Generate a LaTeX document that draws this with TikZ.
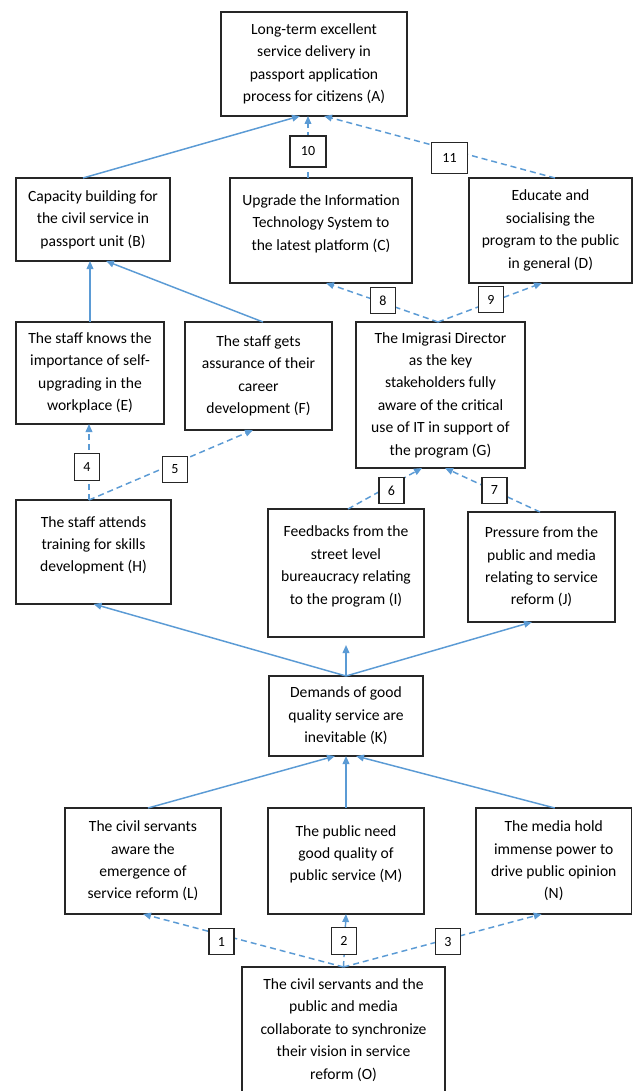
\documentclass[tikz,border=0pt]{standalone}
\usepackage{fontspec}
\setmainfont{Carlito}
\usetikzlibrary{arrows.meta,calc}
\definecolor{arrowblue}{RGB}{91,155,213}
\newcommand\Bx[6]{\node[box,minimum width={(#4-#2)*0.75pt},minimum height={(#5-#3)*0.75pt}] (#1) at ({(#2+#4)/2},{(#3+#5)/2}) {#6};}
\newcommand\dn{\rule[-12pt]{0pt}{1pt}}
\begin{document}
\begin{tikzpicture}[x=0.75pt,y=-0.75pt,
 box/.style={draw=black!85,line width=0.8pt,inner sep=0pt,outer sep=0pt,align=center,font=\fontsize{11.7}{16.8}\selectfont},
 num/.style={draw=black!85,line width=0.8pt,fill=white,inner sep=0pt,minimum width=18.75pt,minimum height=20pt,font=\fontsize{10.5}{12}\selectfont},
 numw/.style={num,minimum width=27pt,minimum height=23.25pt},
 link/.style={draw=arrowblue,line width=1.1pt,-{Triangle[length=6pt,width=5pt]}},
 dlink/.style={link,dash pattern=on 4.5pt off 3pt}]
\useasboundingbox (0,0) rectangle (633,1091);
\clip (0,0) rectangle (633,1091);
\fill[white] (0,0) rectangle (633,1091);
\Bx{A}{221}{12}{407}{116}{Long-term excellent\\service delivery in\\passport application\\process for citizens (A)}
\Bx{B}{16}{178}{170}{261}{Capacity building for\\the civil service in\\passport unit (B)}
\Bx{C}{230}{178}{412}{283}{Upgrade the Information\\Technology System to\\the latest platform (C)\dn}
\Bx{D}{469}{178}{632}{283}{Educate and\\socialising the\\program to the public\\in general (D)}
\Bx{E}{16}{322}{164}{424}{The staff knows the\\importance of self-\\upgrading in the\\workplace (E)}
\Bx{F}{185}{322}{332}{430}{The staff gets\\assurance of their\\career\\development (F)}
\Bx{G}{356}{322}{525}{468}{The Imigrasi Director\\as the key\\stakeholders fully\\aware of the critical\\use of IT in support of\\the program (G)}
\Bx{H}{16}{500}{171}{604}{The staff attends\\training for skills\\development (H)\dn}
\Bx{I}{268}{509}{424}{637}{Feedbacks from the\\street level\\bureaucracy relating\\to the program (I)\dn}
\Bx{J}{468}{512}{615}{622}{Pressure from the\\public and media\\relating to service\\reform (J)}
\Bx{K}{269}{676}{423}{756}{Demands of good\\quality service are\\inevitable (K)}
\Bx{L}{65}{808}{221}{914}{The civil servants\\aware the\\emergence of\\service reform (L)}
\Bx{M}{268}{808}{424}{914}{The public need\\good quality of\\public service (M)\dn}
\Bx{N}{476}{808}{631.5}{914}{The media hold\\immense power to\\drive public opinion\\(N)}
\Bx{O}{242}{967}{445}{1093}{The civil servants and the\\public and media\\collaborate to synchronize\\their vision in service\\reform (O)}
% connectors
\draw[link] ($(B.north)+(-10,0)$) -- ($(A.south)+(-14,0)$);
\draw[dlink] ($(C.north)+(-13,0)$) -- ($(A.south)+(-6,0)$);
\draw[dlink] ($(D.north)+(4.5,0)$) -- ($(A.south)+(10,0)$);
\draw[link] (E.north) -- (E.north |- B.south);
\draw[link] ($(F.north)+(4.5,0)$) -- ($(B.south)+(13,0)$);
\draw[dlink] ($(G.north)+(-2.5,0)$) -- ($(C.south)+(5,0)$);
\draw[dlink] ($(G.north)+(-2.5,0)$) -- ($(D.south)+(-8.5,0)$);
\draw[dlink] ($(H.north)+(-4.5,0)$) -- ($(E.south)+(-1,0)$);
\draw[dlink] ($(H.north)+(-4.5,0)$) -- ($(F.south)+(-5.5,0)$);
\draw[dlink] ($(I.north)+(2,0)$) -- ($(G.south)+(-18.5,0)$);
\draw[dlink] ($(J.north)+(-1.5,0)$) -- ($(G.south)+(4.5,0)$);
\draw[link] (K.north) -- (H.south);
\draw[link,shorten >=6pt] (K.north) -- (K.north |- I.south);
\draw[link] (K.north) -- ($(J.south)+(-9.5,0)$);
\draw[link] ($(L.north)+(5,0)$) -- ($(K.south)+(-11,0)$);
\draw[link] (M.north) -- (K.south);
\draw[link] ($(N.north)+(1,0)$) -- ($(K.south)+(10,0)$);
\draw[dlink] (O.north) -- (L.south);
\draw[dlink] (O.north) -- (M.south);
\draw[dlink] (O.north) -- ($(N.south)+(-12,0)$);
% number labels
\node[numw] (n10) at (308,151.5) {10};
\node[numw] (n11) at (449.5,158) {11};
\node[num] (n8) at (383,300.5) {8};
\node[num] (n9) at (491,299.5) {9};
\node[num] (n4) at (87,467) {4};
\node[num] (n5) at (175,469.5) {5};
\node[num] (n6) at (391.5,490.5) {6};
\node[num] (n7) at (494.5,490.5) {7};
\node[num] (n1) at (221.5,941.5) {1};
\node[num] (n2) at (344,941) {2};
\node[num] (n3) at (448,941.5) {3};
\end{tikzpicture}
\end{document}
